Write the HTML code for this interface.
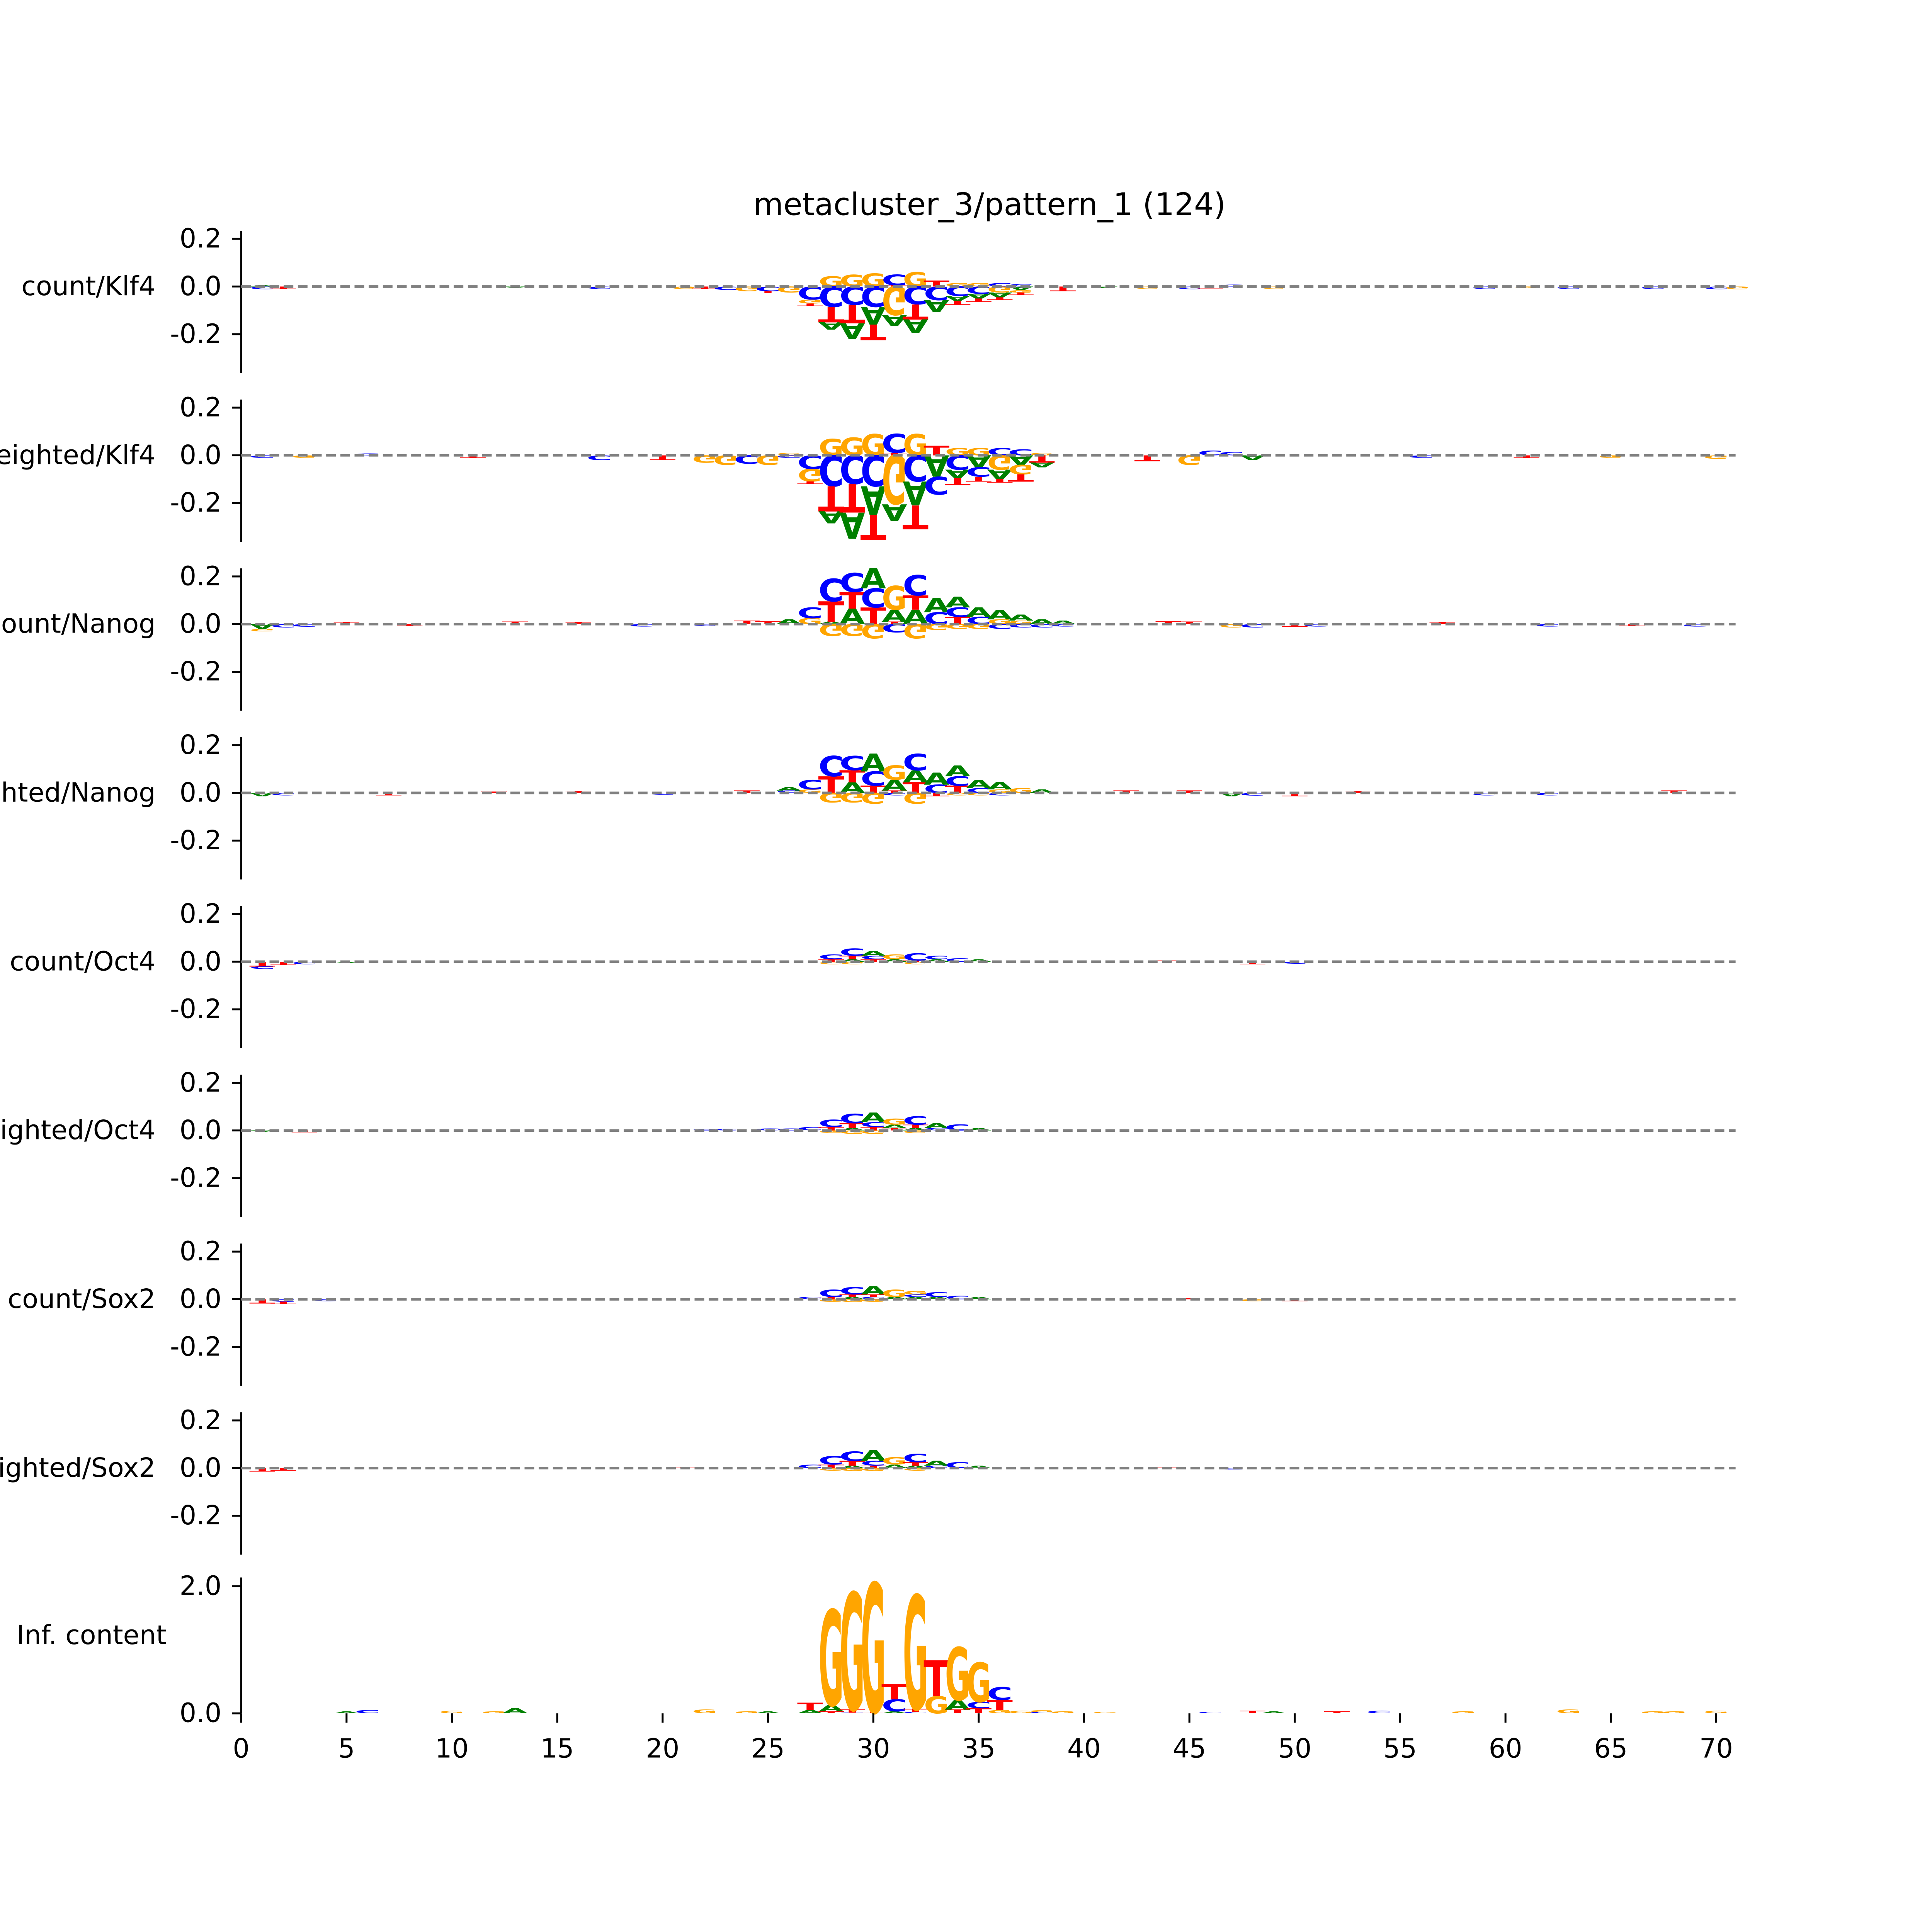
<!DOCTYPE html>
<html><head><meta charset="utf-8"><title>metacluster_3/pattern_1 (124)</title>
<style>
html,body{margin:0;padding:0;background:#fff;overflow:hidden;width:100vw;height:100vh;}
svg{display:block;width:100vw;height:100vh;}
text{font-family:"DejaVu Sans","Liberation Sans",sans-serif;}
</style></head>
<body>
<svg id="chart" xmlns="http://www.w3.org/2000/svg" viewBox="0 0 6000 6000" preserveAspectRatio="none">
<rect x="0" y="0" width="6000" height="6000" fill="#ffffff"/>
</svg>
<script>
// ---- data ----
const trackLabels = ["count/Klf4","weighted/Klf4","count/Nanog","weighted/Nanog","count/Oct4","weighted/Oct4","count/Sox2","weighted/Sox2","Inf. content"];
const xTicks = [0,5,10,15,20,25,30,35,40,45,50,55,60,65,70];
const yTicksContrib = [0.2,0.0,-0.2];
const yTickLabelsContrib = ["0.2","0.0","-0.2"];
const yTicksInfo = [2.0,0.0];
const yTickLabelsInfo = ["2.0","0.0"];

const A1=[.005,0,0,0,0,0,0,0,0,0, 0,0,-.005,0,0,0,0,0,0,0, 0,0,0,0,0,0,0,-.03,-.065,-.075, -.045,-.057,-.05,-.02,-.02,-.02,-.015,0,0,0, -.005,0,0,0,0,0,0,0,0,0, 0,0,0,0,0,0,0,0,0,0, 0,0,0,0,0,0,0,0,0,0, 0];
const C1=[-.012,0,0,0,0,0,0,0,0,0, 0,0,0,0,0,0,-.01,0,0,0, 0,0,-.015,0,-.02,0,-.055,-.085,-.077,-.085, .045,-.075,-.057,-.04,-.03,.015,.01,0,0,0, 0,0,0,0,-.012,0,.008,0,0,0, 0,0,0,0,0,0,0,0,-.01,0, 0,0,-.01,0,0,0,-.01,0,0,-.012, 0];
const G1=[0,0,0,0,0,0,0,0,0,0, 0,0,0,0,0,0,0,0,0,0, -.01,0,0,-.02,0,-.025,-.016,.043,.05,.055, -.12,.06,0,.015,.015,-.025,-.01,0,0,0, 0,0,-.01,0,0,0,0,0,-.01,0, 0,0,0,0,0,0,0,0,0,0, -.005,0,0,0,0,0,0,0,0,0, -.012];
const T1=[0,-.01,0,0,0,0,0,0,0,0, 0,0,0,0,0,0,0,0,0,0, 0,-.01,0,0,-.008,0,-.01,-.065,-.077,-.065, .005,-.063,.025,-.018,-.015,-.01,-.01,0,-.02,0, 0,0,0,0,0,-.008,0,0,0,0, 0,0,0,0,0,0,0,0,0,0, 0,0,0,0,0,0,0,0,0,0, 0];

const A2=[0,0,0,0,0,0,0,0,0,0, 0,0,0,0,0,0,0,0,0,0, 0,0,0,0,0,0,0,-.05,-.11,-.12, -.07,-.1,-.09,-.035,-.05,-.04,-.04,-.02,0,0, 0,0,0,0,0,0,0,-.02,0,0, 0,0,0,0,0,0,0,0,0,0, 0,0,0,0,0,0,0,0,0,0, 0];
const C2=[-.01,0,0,0,0,.008,0,0,0,0, 0,0,0,0,0,0,-.02,0,0,0, 0,0,0,-.035,0,-.01,-.057,-.13,-.12,-.13, .08,-.11,-.075,-.06,-.04,.03,.025,0,0,0, 0,0,0,0,0,.02,.015,0,0,0, 0,0,0,0,0,-.01,0,0,0,0, 0,0,0,0,0,0,0,0,0,0, 0];
const G2=[0,0,-.01,0,0,0,0,0,0,0, 0,0,0,0,0,0,0,0,0,0, 0,-.03,-.04,0,-.04,.01,-.053,.07,.075,.09, -.205,.09,0,.03,.03,-.06,-.04,.01,0,0, 0,0,0,0,-.04,0,0,0,0,0, 0,0,0,0,0,0,0,0,0,0, 0,0,0,0,-.01,0,0,0,0,-.015, 0];
const T2=[0,0,0,0,0,0,0,0,0,0, -.01,0,0,0,0,0,0,0,0,-.02, 0,0,0,0,0,0,-.01,-.105,-.12,-.105, .01,-.1,.04,-.03,-.02,-.015,-.03,-.03,0,0, 0,0,-.025,0,0,0,0,0,0,0, 0,0,0,0,0,0,0,0,0,0, -.01,0,0,0,0,0,0,0,0,0, 0];

const A3=[-.02,0,0,0,0,0,0,0,0,0, 0,0,0,0,0,0,0,0,0,0, 0,0,0,0,0,.02,0,.01,.065,.085, .05,.06,.06,.045,.04,.04,.025,.02,.015,0, 0,0,0,0,0,0,0,0,0,0, 0,0,0,0,0,0,0,0,0,0, 0,0,0,0,0,0,0,0,0,0, 0];
const C3=[0,-.015,-.012,0,0,0,0,0,0,0, 0,0,0,0,0,0,0,0,-.01,0, 0,-.008,0,0,0,0,.045,.095,.08,.08, -.035,.085,.05,.04,.03,-.02,-.015,-.015,-.01,0, 0,0,0,0,0,0,0,-.015,0,0, -.01,0,0,0,0,0,0,0,0,0, 0,-.01,0,0,0,0,0,0,-.01,0, 0];
const G3=[-.01,0,0,0,0,0,0,0,0,0, 0,0,0,0,0,0,0,0,0,0, 0,0,0,0,0,0,.025,-.05,-.05,-.06, .1,-.06,-.025,-.02,-.02,.02,.015,0,0,0, 0,0,0,0,0,0,-.015,0,0,0, 0,0,0,0,0,0,0,0,0,0, 0,0,0,0,0,0,0,0,0,0, 0];
const T3=[0,0,0,0,.008,0,0,-.008,0,0, 0,0,.01,0,0,.008,0,0,0,0, 0,0,0,.015,.012,0,0,.085,.07,.07, .01,.06,0,.03,0,0,0,0,0,0, 0,0,0,.012,.01,0,0,0,0,-.012, 0,0,0,0,0,0,.008,0,0,0, 0,0,0,0,0,-.008,0,0,0,0, 0];

const A4=[-.015,0,0,0,0,0,0,0,0,0, 0,0,0,0,0,0,0,0,0,0, 0,0,0,0,0,.015,0,0,.045,.075, .045,.05,.05,.045,.035,.03,0,.015,0,0, 0,0,0,0,0,0,-.015,0,0,0, 0,0,0,0,0,0,0,0,0,0, 0,0,0,0,0,0,0,0,0,0, 0];
const C4=[0,-.01,0,0,0,0,0,0,0,0, 0,0,0,0,0,0,0,0,0,-.008, 0,0,0,0,0,.01,.04,.085,.06,.06, -.01,.07,.035,.04,.02,-.01,0,0,0,0, 0,0,0,0,0,0,0,-.012,0,0, 0,0,0,0,0,0,0,0,-.01,0, 0,-.01,0,0,0,0,0,0,0,0, 0];
const G4=[0,0,0,0,0,0,0,0,0,0, 0,0,0,0,0,0,0,0,0,0, 0,0,0,0,0,0,.015,-.04,-.04,-.045, .06,-.045,0,-.01,-.01,.015,.02,0,0,0, 0,0,0,0,0,0,0,0,0,0, 0,0,0,0,0,0,0,0,0,0, 0,0,0,0,0,0,0,0,0,0, 0];
const T4=[0,0,0,0,0,0,-.01,0,0,0, 0,.005,0,0,0,.008,0,0,0,0, 0,0,0,.01,0,0,0,.07,.05,.03, .01,.045,-.015,.03,0,0,0,0,0,0, 0,.01,0,0,.01,0,0,0,0,-.015, 0,0,.008,0,0,0,0,0,0,0, 0,0,0,0,0,0,0,.01,0,0, 0];

const A5=[0,0,0,0,-.005,0,0,0,0,0, 0,0,0,0,0,0,0,0,0,0, 0,0,0,0,0,0,0,0,.01,.02, .01,0,.01,0,.01,0,0,0,0,0, 0,0,0,0,0,0,0,0,0,0, 0,0,0,0,0,0,0,0,0,0, 0,0,0,0,0,0,0,0,0,0, 0];
const C5=[-.01,0,-.01,0,0,0,0,0,0,0, 0,0,0,0,0,0,0,0,0,0, 0,0,0,0,0,0,0,.02,.03,.015, 0,.03,.015,.015,0,0,0,0,0,0, 0,0,0,0,0,0,0,0,0,-.008, 0,0,0,0,0,0,0,0,0,0, 0,0,0,0,0,0,0,0,0,0, 0];
const G5=[0,0,0,0,0,0,0,0,0,0, 0,0,0,0,0,0,0,0,0,0, 0,0,0,0,0,0,0,-.01,-.01,0, .02,-.01,0,0,0,0,0,0,0,0, 0,0,0,0,0,0,0,0,0,0, 0,0,0,0,0,0,0,0,0,0, 0,0,0,0,0,0,0,0,0,0, 0];
const T5=[-.02,-.015,0,0,0,0,0,0,0,0, 0,0,0,0,0,0,0,0,0,0, 0,0,0,0,0,0,0,.01,.015,.01, 0,.005,0,0,0,0,0,0,0,0, 0,0,0,.005,0,0,0,-.01,0,0, 0,0,0,0,0,0,0,0,0,0, 0,0,0,0,0,0,0,0,0,0, 0];

const A6=[-.005,0,0,0,0,0,0,0,0,0, 0,0,0,0,0,0,0,0,0,0, 0,0,0,0,0,0,0,0,.01,.04, .015,.01,.02,0,.01,0,0,0,0,0, 0,0,0,0,0,0,0,0,0,0, 0,0,0,0,0,0,0,0,0,0, 0,0,0,0,0,0,0,0,0,0, 0];
const C6=[0,0,0,0,0,0,0,0,0,0, 0,0,0,0,0,0,0,0,0,0, 0,.005,.006,0,.008,.008,.015,.03,.04,.02, 0,.035,.01,.025,0,0,0,0,0,0, 0,0,0,0,0,0,0,0,0,0, 0,0,0,0,0,0,0,0,0,0, 0,0,0,0,0,0,0,0,0,0, 0];
const G6=[0,0,0,0,0,0,0,0,0,0, 0,0,0,0,0,0,0,0,0,0, 0,0,0,0,0,0,0,-.01,-.015,-.015, .025,-.012,0,0,0,0,0,0,0,0, 0,0,0,0,0,0,0,0,0,0, 0,0,0,0,0,0,0,0,0,0, 0,0,0,0,0,0,0,0,0,0, 0];
const T6=[0,0,-.008,0,0,0,0,0,0,0, 0,0,0,0,0,0,0,0,0,0, 0,0,0,0,0,0,0,.015,.02,.015, .01,.015,0,0,0,0,0,0,0,0, 0,0,0,0,0,0,0,0,0,0, 0,0,0,0,0,0,0,0,0,0, 0,0,0,0,0,0,0,0,0,0, 0];

const A7=[0,0,0,0,0,0,0,0,0,0, 0,0,0,0,0,0,0,0,0,0, 0,0,0,0,0,0,0,0,.01,.035, .01,.01,.01,0,.01,0,0,0,0,0, 0,0,0,0,0,0,0,0,0,0, 0,0,0,0,0,0,0,0,0,0, 0,0,0,0,0,0,0,0,0,0, 0];
const C7=[0,-.01,0,-.008,0,0,0,0,0,0, 0,0,0,0,0,0,0,0,0,0, 0,0,0,0,0,0,.01,.03,.03,.01, 0,.01,.02,.015,0,0,0,0,0,0, 0,0,0,0,0,0,0,0,0,0, 0,0,0,0,0,0,0,0,0,0, 0,0,0,0,0,0,0,0,0,0, 0];
const G7=[0,0,0,0,0,0,0,0,0,0, 0,0,0,0,0,0,0,0,0,0, 0,0,0,0,0,0,0,-.01,-.012,-.01, .03,.015,0,0,0,0,0,0,0,0, 0,0,0,0,0,0,0,-.008,0,0, 0,0,0,0,0,0,0,0,0,0, 0,0,0,0,0,0,0,0,0,0, 0];
const T7=[-.018,-.01,0,0,0,0,0,0,0,0, 0,0,0,0,0,0,0,0,0,0, 0,0,0,0,0,0,0,.01,.01,.01, 0,0,0,0,0,0,0,0,0,0, 0,0,0,0,.005,0,0,0,0,-.008, 0,0,0,0,0,0,0,0,0,0, 0,0,0,0,0,0,0,0,0,0, 0];

const A8=[0,0,0,0,0,0,0,0,0,0, 0,0,0,0,0,0,0,0,0,0, 0,0,0,0,0,0,0,0,.01,.045, .015,.01,.02,0,.01,0,0,0,0,0, 0,0,0,0,0,0,0,0,0,0, 0,0,0,0,0,0,0,0,0,0, 0,0,0,0,0,0,0,0,0,0, 0];
const C8=[0,0,0,0,0,0,0,0,0,0, 0,0,0,0,0,0,0,0,0,0, 0,0,0,0,0,0,.015,.035,.04,.02, 0,.035,.01,.025,0,0,0,0,0,0, 0,0,0,0,0,0,-.005,0,0,0, 0,0,0,0,0,0,0,0,0,0, 0,0,0,0,0,0,0,0,0,0, 0];
const G8=[0,0,0,0,0,0,0,0,0,0, 0,0,0,0,0,0,0,0,0,0, 0,0,0,0,0,0,0,-.01,-.012,-.012, .03,-.01,0,0,0,0,0,0,0,0, 0,0,0,0,0,0,0,0,0,0, 0,0,0,0,0,0,0,0,0,0, 0,0,0,0,0,0,0,0,0,0, 0];
const T8=[-.015,-.01,0,0,0,0,0,0,0,0, 0,0,0,0,0,0,0,0,0,0, .003,0,0,0,0,0,0,.015,.02,.01, 0,.015,0,0,0,0,0,0,0,0, 0,0,0,.004,0,0,0,0,0,0, 0,0,0,0,0,0,0,0,0,0, 0,0,0,0,0,0,0,0,0,0, 0];

const A9=[0,0,0,0,.03,0,0,0,0,0, 0,0,.08,0,0,0,0,0,0,0, 0,0,0,0,.03,0,.05,.1,0,0, .03,0,0,.15,0,0,0,0,0,0, 0,0,0,0,0,0,0,0,.03,0, 0,0,0,0,0,0,0,0,0,0, 0,0,0,0,0,0,0,0,0,0, 0];
const C9=[0,0,0,0,0,.05,0,0,0,0, 0,0,0,0,0,0,0,0,0,0, 0,0,0,0,0,0,0,0,.01,0, .19,.02,0,0,.1,.2,0,.02,0,0, 0,0,0,0,0,.02,0,0,0,0, 0,0,0,.04,0,0,0,0,0,0, 0,0,0,0,0,0,0,0,0,0, 0];
const G9=[0,0,0,0,0,0,0,0,0,.04, 0,.03,0,0,0,0,0,0,0,0, 0,.06,0,.03,0,0,0,1.5,1.84,2.03, 0,1.79,.27,.83,.62,.05,.04,.03,.03,0, .02,0,0,0,0,0,0,0,0,0, 0,0,0,0,0,0,0,.03,0,0, 0,0,.06,0,0,0,.03,.03,0,.04, 0];
const T9=[0,0,0,0,0,0,0,0,0,0, 0,0,0,0,0,0,0,0,0,0, 0,0,0,0,0,0,.12,.03,.05,.02, .24,.05,.56,.06,.08,.16,0,0,0,0, 0,0,0,0,0,0,0,.04,0,0, 0,.03,0,0,0,0,0,0,0,0, 0,0,0,0,0,0,0,0,0,0, 0];

const trackA=[A1,A2,A3,A4,A5,A6,A7,A8,A9];
const trackC=[C1,C2,C3,C4,C5,C6,C7,C8,C9];
const trackG=[G1,G2,G3,G4,G5,G6,G7,G8,G9];
const trackT=[T1,T2,T3,T4,T5,T6,T7,T8,T9];

// ---- layout ----
const NS="http://www.w3.org/2000/svg";
const svg=document.getElementById("chart");
const X0=749, XU=65.44;
function xScale(v){return X0+v*XU;}
function zeroY(i){return i<8 ? 889.8+i*524.2 : 5321;}
function unitPx(i){return i<8 ? 740 : 197.5;}
function yScale(i,v){return zeroY(i)-v*unitPx(i);}
const COLORS={A:"#008000",C:"#0000ff",G:"#ffa500",T:"#ff0000"};
const ADV={A:0.774,C:0.734,G:0.821,T:0.682};
const CAP=0.729;
function mk(tag,attrs,parent){const e=document.createElementNS(NS,tag);for(const k in attrs)e.setAttribute(k,attrs[k]);(parent||svg).appendChild(e);return e;}

const title=mk("text",{x:3073,y:635,"font-size":96,"text-anchor":"middle","dominant-baseline":"central",fill:"#000"});


title.textContent="metacluster_3/pattern_1 (124)";

for(let i=0;i<9;i++){
  const g=mk("g",{});
  
  
  const z=zeroY(i);
  const isInfo=i===8;
  const lab=mk("text",{x:isInfo?517:483,y:isInfo?5079:z,"font-size":82,"text-anchor":"end","dominant-baseline":"central",fill:"#000"},g);
  
  
  lab.textContent=trackLabels[i];
  const top=isInfo?4899:z-173, bot=isInfo?5321:z+269;
  const sp=mk("line",{x1:X0,x2:X0,y1:top,y2:bot,stroke:"#000","stroke-width":6},g);
  
  
  const tv=isInfo?yTicksInfo:yTicksContrib, tl=isInfo?yTickLabelsInfo:yTickLabelsContrib;
  for(let t=0;t<tv.length;t++){
    const y=yScale(i,tv[t]);
    const tk=mk("line",{x1:X0-29,x2:X0,y1:y,y2:y,stroke:"#000","stroke-width":6},g);
    
    
    const tt=mk("text",{x:688,y:y,"font-size":82,"text-anchor":"end","dominant-baseline":"central",fill:"#000"},g);
    
    
    tt.textContent=tl[t];
  }
  const n=trackA[i].length;
  for(let k=0;k<n;k++){
    const cx=xScale(k+1);
    const items=[["A",trackA[i][k]],["C",trackC[i][k]],["G",trackG[i][k]],["T",trackT[i][k]]];
    const pos=items.filter(d=>d[1]>0).sort((a,b)=>a[1]-b[1]);
    const neg=items.filter(d=>d[1]<0).sort((a,b)=>a[1]-b[1]);
    let base=z;
    for(const [L,v] of pos){
      const h=v*unitPx(i); if(h<0.8){continue;}
      const sx=1.05*XU/((ADV[L]-0.1)*1000), sy=h/(CAP*1000);
      const t=mk("text",{x:0,y:0,"font-size":1000,"font-weight":"bold","text-anchor":"middle",fill:COLORS[L],transform:`translate(${cx},${base}) scale(${sx},${sy})`},g);
      
      
      t.textContent=L;
      base-=h;
    }
    base=z;
    for(const [L,v] of neg){
      const h=-v*unitPx(i); if(h<0.8){continue;}
      const sx=1.05*XU/((ADV[L]-0.1)*1000), sy=h/(CAP*1000);
      const t=mk("text",{x:0,y:0,"font-size":1000,"font-weight":"bold","text-anchor":"middle",fill:COLORS[L],transform:`translate(${cx},${base}) scale(${sx},${-sy})`},g);
      
      
      t.textContent=L;
      base+=h;
    }
  }
  if(!isInfo){
    const dl=mk("line",{x1:X0,x2:5390,y1:z,y2:z,stroke:"#808080","stroke-width":8,"stroke-dasharray":"30 14"},g);
    
    
  }
}
for(const v of xTicks){
  const x=xScale(v);
  const tk=mk("line",{x1:x,x2:x,y1:5321,y2:5350,stroke:"#000","stroke-width":6});
  
  
  const tt=mk("text",{x:x,y:5431,"font-size":82,"text-anchor":"middle","dominant-baseline":"central",fill:"#000"});
  
  
  tt.textContent=String(v);
}
</script>
</body></html>
